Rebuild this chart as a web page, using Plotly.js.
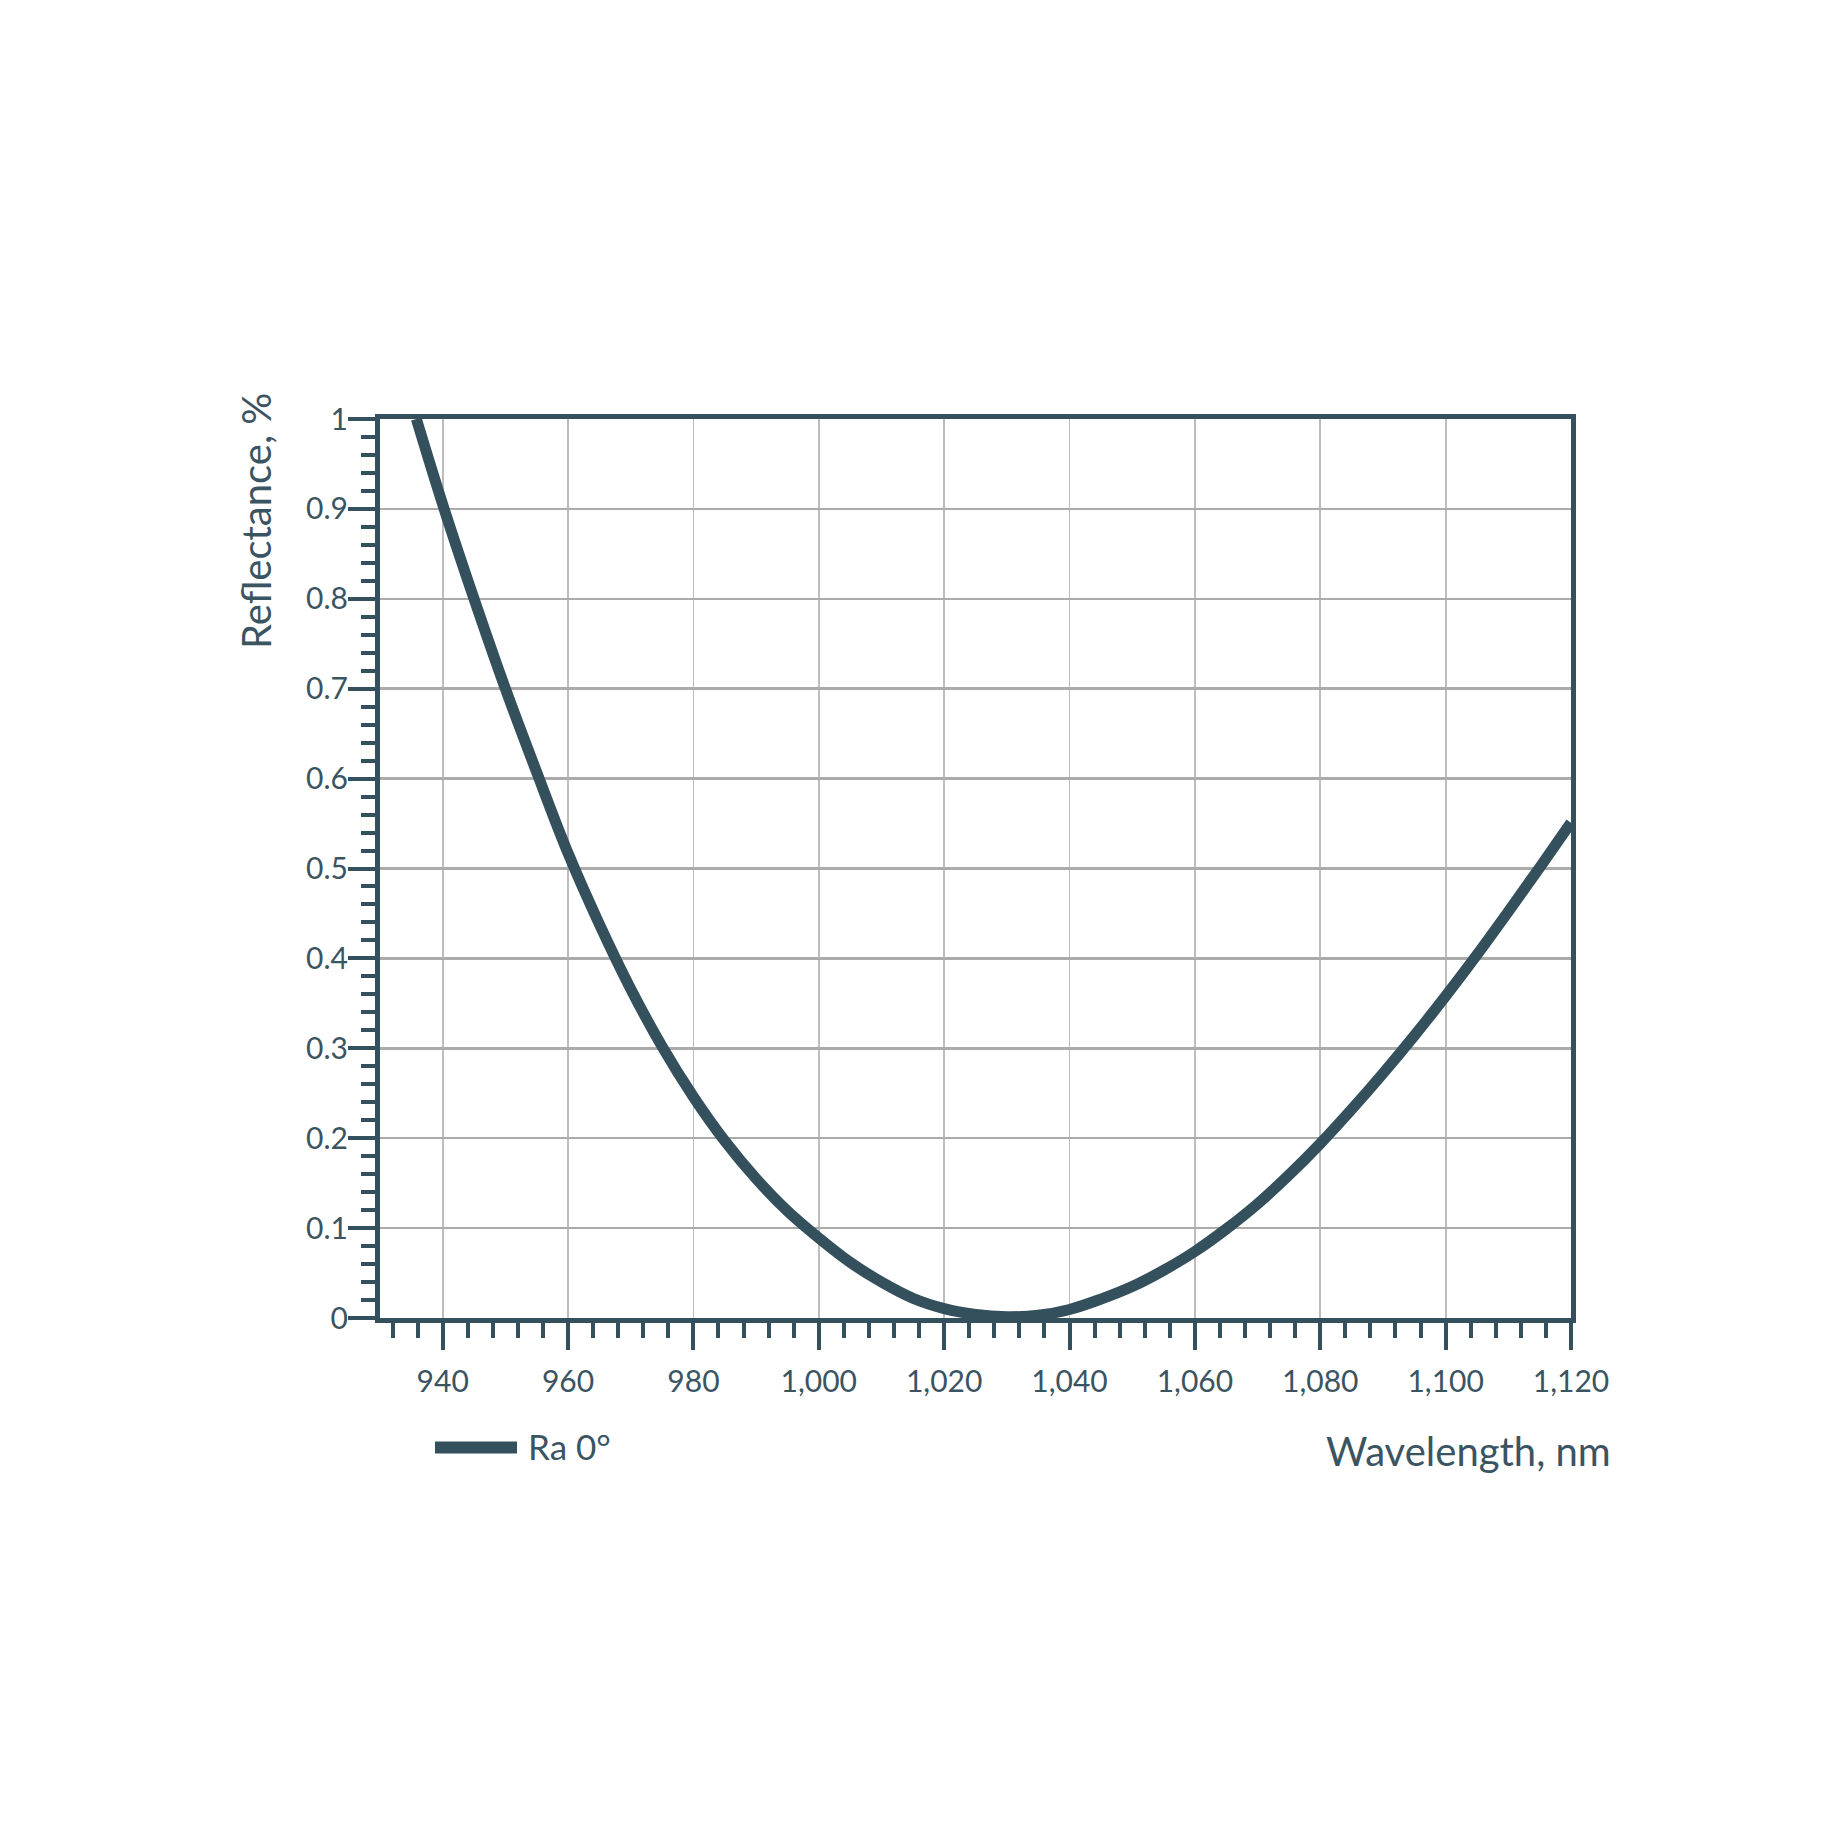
<!DOCTYPE html>
<html>
<head>
<meta charset="utf-8">
<script src="https://cdn.plot.ly/plotly-3.0.1.min.js"></script>
<style>html,body{margin:0;padding:0;background:#fff}</style>
</head>
<body>
<div id="chart" style="width:1848px;height:1848px"></div>
<script>
// values
var wavelength = [935.8, 940, 945, 950, 955, 960, 965, 970, 975, 980, 985, 990, 995, 1000,
  1005, 1010, 1015, 1020, 1025, 1030, 1035, 1040, 1045, 1050, 1055, 1060, 1065, 1070,
  1075, 1080, 1085, 1090, 1095, 1100, 1105, 1110, 1115, 1120];
var reflectance = [1.0, 0.905, 0.800, 0.700, 0.607, 0.517, 0.438, 0.366, 0.302, 0.246,
  0.197, 0.155, 0.119, 0.089, 0.062, 0.040, 0.022, 0.0105, 0.004, 0.0015, 0.003, 0.0095,
  0.021, 0.035, 0.053, 0.074, 0.099, 0.127, 0.159, 0.194, 0.232, 0.272, 0.314, 0.358,
  0.404, 0.452, 0.501, 0.551];
var seriesName = 'Ra 0°';
var xTitle = 'Wavelength, nm';
var yTitle = 'Reflectance, %';

var dark = '#34505c';
var textColor = '#3b5462';
var W = 1848, H = 1848;
var m = {l: 380, r: 277, t: 419, b: 530};
function px(x) { return (x - m.l) / (W - m.l - m.r); }
function py(y) { return 1 - (y - m.t) / (H - m.t - m.b); }

var data = [{
  type: 'scatter',
  mode: 'lines',
  x: wavelength,
  y: reflectance,
  name: seriesName,
  line: {color: dark, width: 11, shape: 'spline', smoothing: 1},
  showlegend: false
}];

var layout = {
  width: W,
  height: H,
  margin: m,
  paper_bgcolor: '#ffffff',
  plot_bgcolor: '#ffffff',
  font: {family: 'Lato, sans-serif', color: textColor, size: 30},
  xaxis: {
    range: [930, 1120],
    tick0: 940,
    dtick: 20,
    tickformat: ',d',
    ticks: 'outside',
    ticklen: 27,
    tickwidth: 4,
    tickcolor: dark,
    ticklabelstandoff: 6,
    showline: true,
    linecolor: dark,
    linewidth: 5,
    mirror: true,
    showgrid: true,
    gridcolor: '#bdbdbd',
    gridwidth: 1.8,
    zeroline: false,
    tickfont: {size: 30, color: textColor},
    minor: {dtick: 4, tick0: 940, ticks: 'outside', ticklen: 15, tickwidth: 4, tickcolor: dark, showgrid: false}
  },
  yaxis: {
    range: [0, 1],
    tick0: 0,
    dtick: 0.1,
    ticks: 'outside',
    ticklen: 27,
    tickwidth: 4,
    tickcolor: dark,
    ticklabelstandoff: -6,
    showline: true,
    linecolor: dark,
    linewidth: 5,
    mirror: true,
    showgrid: true,
    gridcolor: '#ababab',
    gridwidth: 2.5,
    zeroline: false,
    tickfont: {size: 30, color: textColor},
    minor: {dtick: 0.02, tick0: 0, ticks: 'outside', ticklen: 14, tickwidth: 4, tickcolor: dark, showgrid: false}
  },
  shapes: [{
    type: 'line', xref: 'paper', yref: 'paper',
    x0: px(435), x1: px(517), y0: py(1447.5), y1: py(1447.5),
    line: {color: dark, width: 12}
  }],
  annotations: [{
    text: yTitle, xref: 'paper', yref: 'paper',
    x: px(256), y: py(521), xanchor: 'center', yanchor: 'middle',
    textangle: -90, showarrow: false,
    font: {size: 40, color: textColor}
  }, {
    text: xTitle, xref: 'paper', yref: 'paper',
    x: px(1613), y: py(1451), xanchor: 'right', yanchor: 'middle',
    showarrow: false,
    font: {size: 40, color: textColor}
  }, {
    text: seriesName, xref: 'paper', yref: 'paper',
    x: px(526), y: py(1446), xanchor: 'left', yanchor: 'middle',
    showarrow: false,
    font: {size: 35, color: textColor}
  }]
};

Plotly.newPlot('chart', data, layout, {displayModeBar: false, staticPlot: true});
</script>
</body>
</html>
